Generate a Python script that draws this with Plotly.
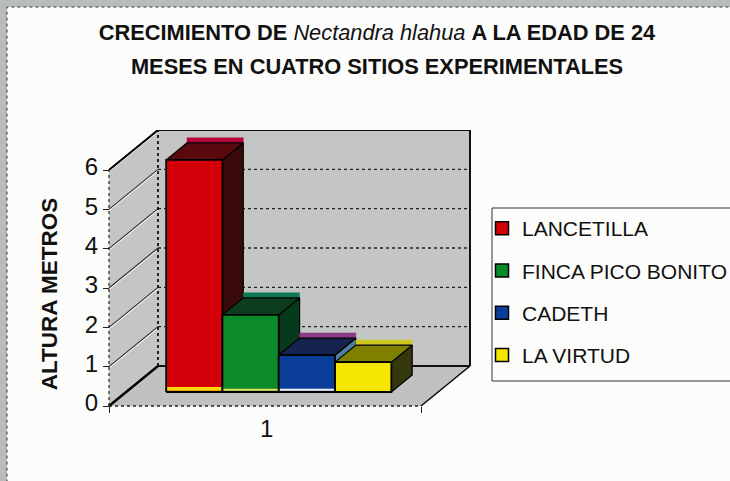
import plotly.graph_objects as go

# ---- data ----
SITES = ["LANCETILLA", "FINCA PICO BONITO", "CADETH", "LA VIRTUD"]
HEIGHTS = [5.9, 1.96, 0.94, 0.76]
Y_TICKS = [0, 1, 2, 3, 4, 5, 6]
CATEGORY_LABEL = "1"
TITLE_A = "CRECIMIENTO DE"
TITLE_SPECIES = "Nectandra hlahua"
TITLE_B = "A LA EDAD DE 24"
TITLE_C = "MESES EN CUATRO SITIOS EXPERIMENTALES"
Y_TITLE = "ALTURA METROS"

# ---- styles and geometry of the oblique 3-D projection ----
FRONT = ["#d30009", "#0a8a28", "#0a3d98", "#f5e600"]
TOP = ["#5a0a0e", "#0b3d1e", "#15234f", "#7f7f00"]
SIDE = ["#3a0a0a", "#063a1c", "#4f7fa0", "#34380c"]
RIM = ["#b5003c", "#0c7a55", "#8a3a8a", "#cfc820"]
FOOT = ["#f5d800", "#e8e060", "#f2f6f6", "#f5e600"]
FOOT_H = [0.1, 0.05, 0.05, 0.0]
WALL = "#c3c6c4"
FLOOR = "#bfc2c0"
W, H = 730, 481
UNIT = 39.33            # pixels per metre
X0, Y0 = 109, 406       # front-left floor corner in pixels
FLOOR_W = 312
DX, DY = 49, 40         # depth offset of the back wall
BAR_W = 56.3
BAR_START = 40
D_FRONT, D_BACK = 0.35, 0.775
RIM_H = 0.13

def px(x, depth):
    return X0 + x + DX * depth

def val(v, depth):
    return v + DY * depth / UNIT

fig = go.Figure()

def poly(corners, fill, line="#000000", width=1.5):
    fig.add_trace(go.Scatter(
        x=[px(c[0], c[1]) for c in corners] + [px(corners[0][0], corners[0][1])],
        y=[val(c[2], c[1]) for c in corners] + [val(corners[0][2], corners[0][1])],
        mode="lines", fill="toself", fillcolor=fill,
        line=dict(color=line, width=width),
        showlegend=False, hoverinfo="skip"))

def seg(a, b, color="#000000", width=1.5, dash="solid"):
    fig.add_trace(go.Scatter(
        x=[px(a[0], a[1]), px(b[0], b[1])],
        y=[val(a[2], a[1]), val(b[2], b[1])],
        mode="lines", line=dict(color=color, width=width, dash=dash),
        showlegend=False, hoverinfo="skip"))

top_v = max(Y_TICKS)
# walls and floor
poly([(0, 0, 0), (FLOOR_W, 0, 0), (FLOOR_W, 1, 0), (0, 1, 0)], FLOOR, line=FLOOR, width=0)
poly([(0, 0, 0), (0, 1, 0), (0, 1, top_v), (0, 0, top_v)], WALL, line=WALL, width=0)
poly([(0, 1, 0), (FLOOR_W, 1, 0), (FLOOR_W, 1, top_v), (0, 1, top_v)], WALL, line=WALL, width=0)

# gridlines
for t in Y_TICKS[1:]:
    seg((0, 1, t), (FLOOR_W, 1, t), "#222222", 1.3, "dot")
    seg((0, 0, t - 0.03), (0, 1, t - 0.03), "#ffffff", 1.2)
    seg((0, 0, t), (0, 1, t), "#2a2a2a", 1.1)

# wall outlines
seg((0, 0, top_v), (0, 1, top_v), "#000000", 2)
seg((0, 1, top_v), (FLOOR_W, 1, top_v), "#111111", 1.8)
seg((0, 1, 0), (0, 1, top_v), "#111111", 1.8, "dot")
seg((FLOOR_W, 1, 0), (FLOOR_W, 1, top_v), "#111111", 2)
seg((0, 1, 0), (FLOOR_W, 1, 0), "#111111", 2)
seg((0, 0, 0), (0, 0, top_v), "#333333", 1.3, "dot")
seg((0, 0, 0), (0, 1, 0), "#000000", 2.4)
seg((FLOOR_W, 0, 0), (FLOOR_W, 1, 0), "#000000", 1.4)
seg((0, 0, 0), (FLOOR_W, 0, 0), "#222222", 1.5, "dot")

# 3-D bars standing side by side
for i, h in enumerate(HEIGHTS):
    x1 = BAR_START + i * BAR_W
    x2 = x1 + BAR_W
    poly([(x1, D_BACK, h + RIM_H), (x2, D_BACK, h + RIM_H), (x2, D_BACK, h), (x1, D_BACK, h)],
         RIM[i], line=RIM[i], width=0.5)
    poly([(x2, D_FRONT, 0), (x2, D_BACK, 0), (x2, D_BACK, h), (x2, D_FRONT, h)], SIDE[i], width=1.2)
    poly([(x1, D_FRONT, h), (x2, D_FRONT, h), (x2, D_BACK, h), (x1, D_BACK, h)], TOP[i], width=1.2)
    poly([(x1, D_FRONT, 0), (x2, D_FRONT, 0), (x2, D_FRONT, h), (x1, D_FRONT, h)], FRONT[i], width=1.8)
    if FOOT_H[i]:
        poly([(x1 + 1, D_FRONT, 0.03), (x2 - 1, D_FRONT, 0.03),
              (x2 - 1, D_FRONT, 0.03 + FOOT_H[i]), (x1 + 1, D_FRONT, 0.03 + FOOT_H[i])],
             FOOT[i], line=FOOT[i], width=0)

# legend entries
for i, name in enumerate(SITES):
    fig.add_trace(go.Scatter(
        x=[None], y=[None], mode="markers", name=name,
        marker=dict(symbol="square", size=13, color=FRONT[i],
                    line=dict(color="#000000", width=1.5)),
        legendgroup=name, hoverinfo="skip"))

sp = '<span style="font-size:21.8px">'
title = (f'{sp}<b>{TITLE_A}</b> <i>{TITLE_SPECIES}</i> <b>{TITLE_B}</b></span><br>'
         f'{sp}<b>{TITLE_C}</b></span>')

y_bottom_px, y_top_px = 458, 130
fig.update_layout(
    width=W, height=H,
    margin=dict(l=0, r=0, t=0, b=0, autoexpand=False),
    autosize=False,
    paper_bgcolor="#b9bdba",
    plot_bgcolor="rgba(0,0,0,0)",
    font=dict(family="Liberation Sans, Arial, sans-serif", color="#111111"),
    title=dict(text=title, x=377 / W, xanchor="center", y=1 - 40 / H, yanchor="top",
               font=dict(size=26, color="#111111")),
    xaxis=dict(range=[0, W], domain=[0, 1], anchor="free", position=(H - Y0) / H,
               showgrid=False, zeroline=False, showline=False,
               tickvals=[X0 + BAR_START + 2 * BAR_W + 5], ticktext=[CATEGORY_LABEL],
               ticks="", ticklen=0, ticklabelstandoff=6,
               tickfont=dict(size=24, color="#111111"),
               minor=dict(tickvals=[X0, X0 + FLOOR_W], ticks="outside", ticklen=6,
                          tickwidth=1.2, tickcolor="#222222")),
    yaxis=dict(range=[(Y0 - y_bottom_px) / UNIT, (Y0 - y_top_px) / UNIT],
               domain=[(H - y_bottom_px) / H, (H - y_top_px) / H],
               anchor="free", position=X0 / W,
               showgrid=False, zeroline=False, showline=False,
               tickvals=Y_TICKS, ticks="outside", ticklen=6, tickwidth=1.2, tickcolor="#222222",
               ticklabelshift=-3,
               tickfont=dict(size=24, color="#111111"),
               title=dict(text=f"<b>{Y_TITLE}</b>", font=dict(size=22.5, color="#111111"), standoff=19)),
    legend=dict(x=482 / W, y=1 - 208 / H, xanchor="left", yanchor="top",
                bgcolor="rgba(0,0,0,0)", borderwidth=0,
                font=dict(size=21, color="#111111"), tracegroupgap=12,
                itemwidth=30, traceorder="grouped"),
    shapes=[dict(type="rect", xref="paper", yref="paper", layer="below",
                 x0=7 / W, x1=1.01, y0=-0.01, y1=1 - 7 / H,
                 fillcolor="#fcfcfa", line=dict(color="#333333", width=1, dash="dot")),
            dict(type="rect", xref="paper", yref="paper", layer="below",
                 x0=492 / W, x1=1.01, y0=1 - 381 / H, y1=1 - 208 / H,
                 fillcolor="#fcfcfa", line=dict(color="#333333", width=1))],
)
fig.write_html("out.html", config=dict(displayModeBar=False),
               post_script="document.body.style.margin='0';document.documentElement.style.overflow='hidden';")
